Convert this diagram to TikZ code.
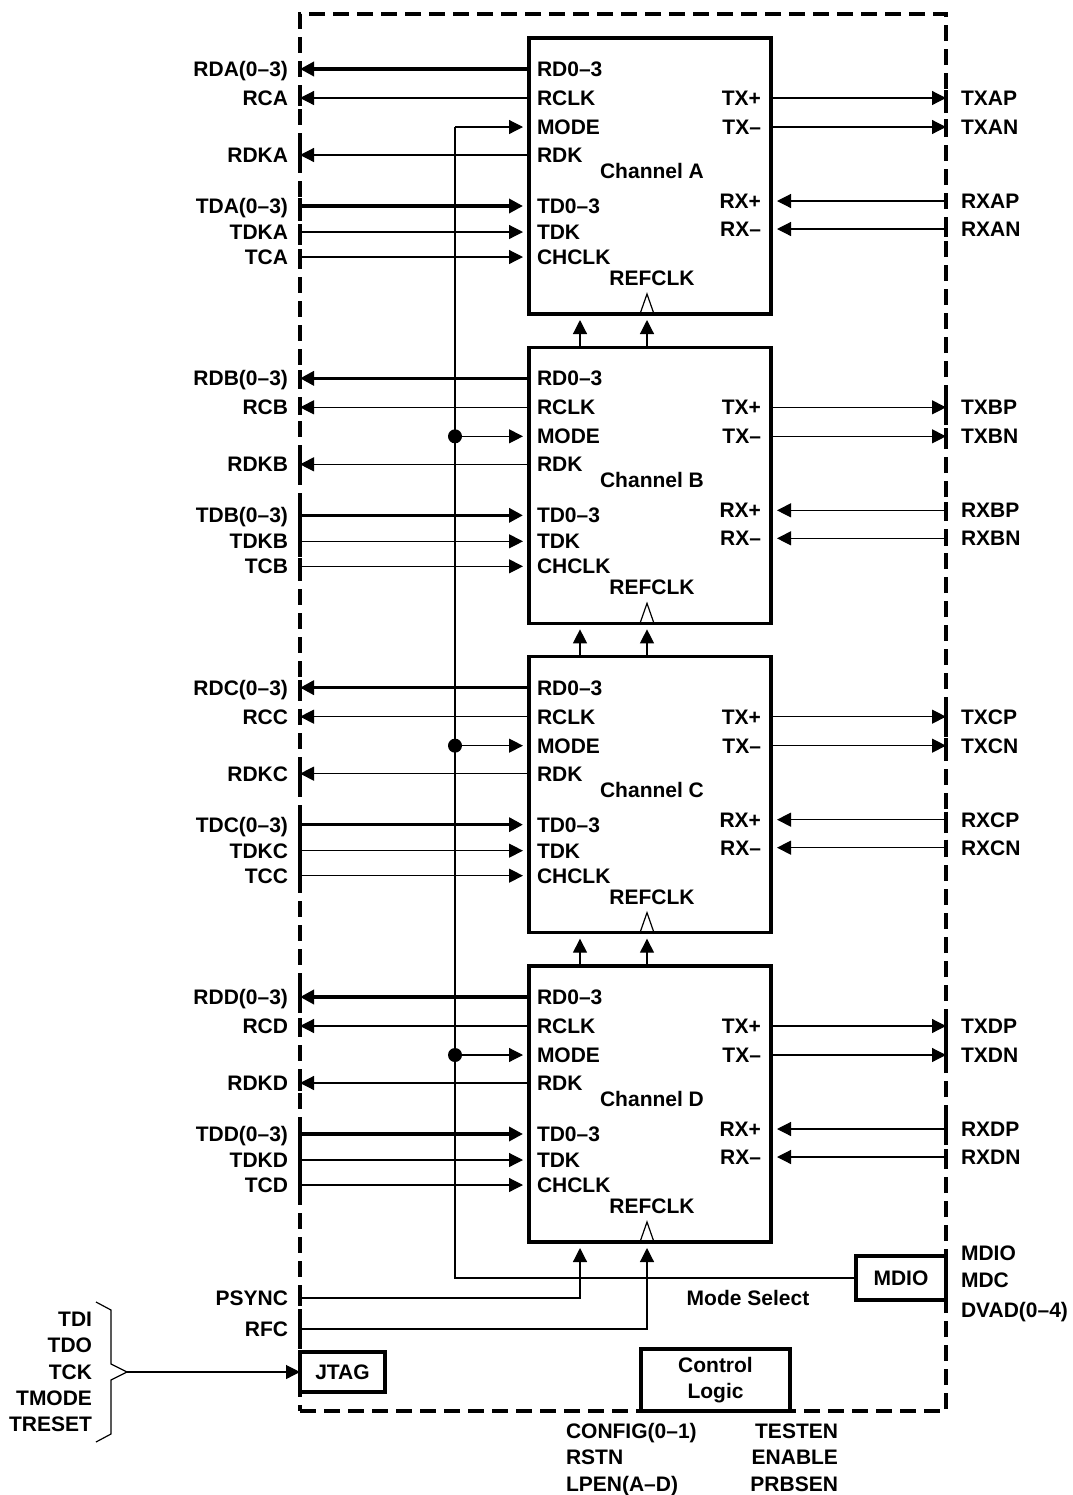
\documentclass[tikz,border=0pt]{standalone}
\usepackage{fontspec}
\setmainfont{Liberation Sans}
\usetikzlibrary{arrows.meta}

\begin{document}
\begin{tikzpicture}[
  x=0.5pt, y=-0.5pt,
  every node/.style={font=\fontsize{10.5}{13}\selectfont\bfseries, inner sep=0pt, outer sep=0pt},
  pin/.style={text height=7.5pt, text depth=0pt},
  box/.style={draw, line width=1.6pt, align=center},
  chan/.style={box, minimum width=121pt, minimum height=138pt},
  edge/.style={line width=1.6pt},
  sig/.style={line width=0.6pt},
  bus/.style={line width=1.8pt},
  arrow/.style={-{Triangle[length=7pt, width=7pt]}},
  inarrow/.style={arrow, shorten >=3pt},
]
\useasboundingbox (0,0) rectangle (1072,1495);

% Device boundary
\node[draw, line width=1.6pt, dash pattern=on 8pt off 4pt, minimum width=323pt, minimum height=698.5pt] (chip) at (623,712.5) {};

% Four channels
\foreach \c [count=\i from 0] in {A,B,C,D} {
  \pgfmathsetmacro\T{38+309.33*\i}
  \node[chan] (ch\c) at (650,\T+138) {};
  \node (name\c) at (652,\T+133) {Channel \c};
  % pins inside
  \node[pin, anchor=west] (prd\c) at (537,\T+31) {RD0–3};
  \node[pin, anchor=west] (prc\c) at (537,\T+60) {RCLK};
  \node[pin, anchor=west] (pmo\c) at (537,\T+89) {MODE};
  \node[pin, anchor=west] (prk\c) at (537,\T+117) {RDK};
  \node[pin, anchor=west] (ptd\c) at (537,\T+168) {TD0–3};
  \node[pin, anchor=west] (ptk\c) at (537,\T+194) {TDK};
  \node[pin, anchor=west] (ptc\c) at (537,\T+219) {CHCLK};
  \node[pin] (pref\c) at (652,\T+240) {REFCLK};
  \node[pin, anchor=east] (ptp\c) at (761,\T+60) {TX+};
  \node[pin, anchor=east] (ptn\c) at (761,\T+89) {TX–};
  \node[pin, anchor=east] (prp\c) at (761,\T+163) {RX+};
  \node[pin, anchor=east] (prn\c) at (761,\T+191) {RX–};
  % external signals
  \node[pin, anchor=east] (xrd\c) at (288,\T+31) {RD\c(0–3)};
  \node[pin, anchor=east] (xrc\c) at (288,\T+60) {RC\c};
  \node[pin, anchor=east] (xrk\c) at (288,\T+117) {RDK\c};
  \node[pin, anchor=east] (xtd\c) at (288,\T+168) {TD\c(0–3)};
  \node[pin, anchor=east] (xtk\c) at (288,\T+194) {TDK\c};
  \node[pin, anchor=east] (xtc\c) at (288,\T+219) {TC\c};
  \node[pin, anchor=west] (xtp\c) at (961,\T+60) {TX\c P};
  \node[pin, anchor=west] (xtn\c) at (961,\T+89) {TX\c N};
  \node[pin, anchor=west] (xrp\c) at (961,\T+163) {RX\c P};
  \node[pin, anchor=west] (xrn\c) at (961,\T+191) {RX\c N};
  % receive outputs
  \draw[bus, arrow] (ch\c.west |- prd\c) -- (chip.west |- xrd\c);
  \draw[sig, arrow] (ch\c.west |- prc\c) -- (chip.west |- xrc\c);
  \draw[sig, arrow] (ch\c.west |- prk\c) -- (chip.west |- xrk\c);
  % transmit inputs
  \draw[bus, inarrow] (chip.west |- xtd\c) -- (ch\c.west |- ptd\c);
  \draw[sig, inarrow] (chip.west |- xtk\c) -- (ch\c.west |- ptk\c);
  \draw[sig, inarrow] (chip.west |- xtc\c) -- (ch\c.west |- ptc\c);
  % serial side
  \draw[sig, arrow] (ch\c.east |- ptp\c) -- (chip.east |- xtp\c);
  \draw[sig, arrow] (ch\c.east |- ptn\c) -- (chip.east |- xtn\c);
  \draw[sig, inarrow] (chip.east |- xrp\c) -- (ch\c.east |- prp\c);
  \draw[sig, inarrow] (chip.east |- xrn\c) -- (ch\c.east |- prn\c);
  % pin marks on the boundary
  \foreach \n in {xrd,xrc,xrk,xtd,xtk,xtc}
    \draw[edge] (chip.west |- \n\c) ++(0,-8) -- ++(0,16);
  \foreach \n in {xtp,xtn,xrp,xrn}
    \draw[edge] (chip.east |- \n\c) ++(0,-8) -- ++(0,16);
  % mode tap
  \coordinate (mj\c) at (455,\T+89);
  \draw[sig, inarrow] (mj\c) -- (ch\c.west |- pmo\c);
  % clock inputs
  \coordinate (ps\c) at (580,\T+276);
  \coordinate (rf\c) at (647,\T+276);
  \coordinate (pst\c) at (580,\T);
  \coordinate (rft\c) at (647,\T);
  \draw[sig] (rf\c) ++(-7,0) -- ++(7,-20) -- ++(7,20);
}

% Clock chain between channels
\foreach \u/\l in {A/B, B/C, C/D} {
  \draw[sig, inarrow] (pst\l) -- (ps\u);
  \draw[sig, inarrow] (rft\l) -- (rf\u);
}

% MDIO and mode select
\node[box, minimum width=45pt, minimum height=22pt] (mdio) at (901,1278) {MDIO};
\node[pin, anchor=west] (mdiop) at (961,1253) {MDIO};
\node[pin, anchor=west] (mdc) at (961,1280) {MDC};
\node[pin, anchor=west] (dvad) at (961,1310) {DVAD(0–4)};
\node[pin] (modesel) at (748,1298) {Mode Select};
\draw[sig] (mdio.west) -| (mjA);
\foreach \c in {B,C,D} \fill (mj\c) circle (3.5pt);

% PSYNC and RFC
\node[pin, anchor=east] (psync) at (288,1298) {PSYNC};
\node[pin, anchor=east] (rfc) at (288,1329) {RFC};
\draw[sig, inarrow] (chip.west |- psync) -| (psD);
\draw[sig, inarrow] (chip.west |- rfc) -| (rfD);
\foreach \n in {psync,rfc}
  \draw[edge] (chip.west |- \n) ++(0,-8) -- ++(0,16);

% JTAG
\node[box, minimum width=42.5pt, minimum height=20pt] (jtag) at (342.5,1372) {JTAG};
\node[pin, anchor=east] (tdi) at (92,1319) {TDI};
\node[pin, anchor=east] (tdo) at (92,1345) {TDO};
\node[pin, anchor=east] (tck) at (92,1372) {TCK};
\node[pin, anchor=east] (tmode) at (92,1398) {TMODE};
\node[pin, anchor=east] (treset) at (92,1424) {TRESET};
\coordinate (brace) at (127,1372);
\draw[sig] (96,1302) -- (111,1310) -- (111,1364) -- (brace) -- (111,1380) -- (111,1434) -- (96,1442);
\draw[sig, arrow] (brace) -- (jtag.west);

% Control logic
\node[box, minimum width=74.5pt, minimum height=31pt] (ctrl) at (715.5,1380) {Control\\Logic};
\node[pin, anchor=west] (config) at (566,1431) {CONFIG(0–1)};
\node[pin, anchor=west] (rstn) at (566,1457) {RSTN};
\node[pin, anchor=west] (lpen) at (566,1484) {LPEN(A–D)};
\node[pin, anchor=east] (testen) at (838,1431) {TESTEN};
\node[pin, anchor=east] (enable) at (838,1457) {ENABLE};
\node[pin, anchor=east] (prbsen) at (838,1484) {PRBSEN};
\end{tikzpicture}
\end{document}
